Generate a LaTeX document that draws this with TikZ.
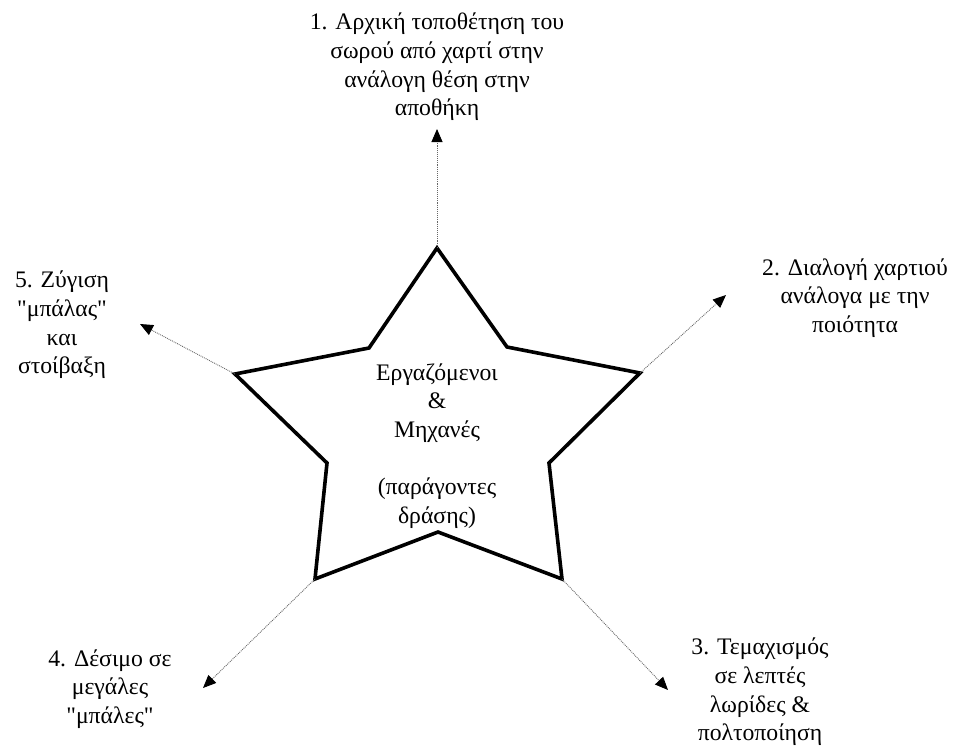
\documentclass[tikz,border=0pt]{standalone}
\usepackage{fontspec}
\setmainfont{Liberation Serif}
\usetikzlibrary{arrows.meta}
\newcommand{\qq}{\textquotedbl}
\begin{document}
\begin{tikzpicture}[x=1pt,y=-1pt,
  txt/.style={align=center,font=\fontsize{23.7}{28.7}\selectfont,inner sep=0pt},
  starline/.style={line width=3.6pt,line join=miter,black},
  flow/.style={gray!80!black,line width=0.9pt,densely dotted,
    -{Triangle[length=13pt,width=11pt,fill=black,color=black]}}]
\useasboundingbox (0,0) rectangle (954,745);
% star outline
\coordinate (top) at (437,248);
\coordinate (ur) at (507,347);
\coordinate (right) at (640,373);
\coordinate (lr) at (549,463);
\coordinate (botr) at (562,579);
\coordinate (bot) at (438,532);
\coordinate (botl) at (315,579);
\coordinate (ll) at (327,463);
\coordinate (left) at (235,374);
\coordinate (ul) at (369,348);
\draw[starline] (top) -- (ur) -- (right) -- (lr) -- (botr) -- (bot)
  -- (botl) -- (ll) -- (left) -- (ul) -- cycle;
% centre text
\node[txt] (centre) at (437,446) {Εργαζόμενοι\\\&\\Μηχανές\\[28.7pt](παράγοντες\\δράσης)};
% arrow ends
\coordinate (t1) at (437,129);
\coordinate (t2) at (726,295);
\coordinate (t3) at (668,690);
\coordinate (t4) at (203,688);
\coordinate (t5) at (140,324);
\draw[flow] (top) -- (t1);
\draw[flow] (right) -- (t2);
\draw[flow] (botr) -- (t3);
\draw[flow] (botl) -- (t4);
\draw[flow] (left) -- (t5);
% step labels
\node[txt] (s1) at (437,67) {1. Αρχική τοποθέτηση του\\σωρού από χαρτί στην\\ανάλογη θέση στην\\αποθήκη};
\node[txt] (s2) at (855,298) {2. Διαλογή χαρτιού\\ανάλογα με την\\ποιότητα};
\node[txt] (s3) at (760,692) {3. Τεμαχισμός\\σε λεπτές\\λωρίδες \&\\πολτοποίηση};
\node[txt] (s4) at (110,689) {4. Δέσιμο σε\\μεγάλες\\\qq μπάλες\qq};
\node[txt] (s5) at (62,325) {5. Ζύγιση\\\qq μπάλας\qq\\και\\στοίβαξη};
\end{tikzpicture}
\end{document}
